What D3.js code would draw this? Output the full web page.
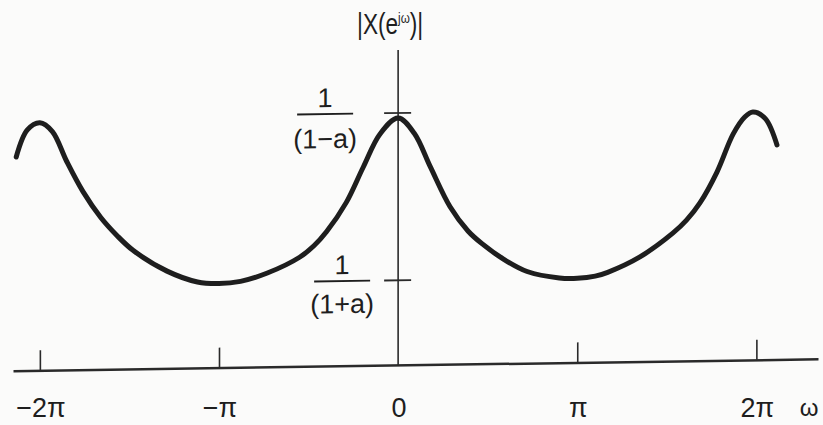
<!DOCTYPE html>
<html>
<head>
<meta charset="utf-8">
<script src="https://cdn.jsdelivr.net/npm/d3@7"></script>
<style>
  html, body { margin: 0; padding: 0; background: #fbfbfa; }
  svg { display: block; }
</style>
</head>
<body>
<svg id="chart" width="823" height="425"></svg>
<script>
// ---- Data (ω in units of π, |X(e^jω)| with a = 0.5) ----
const omegaOverPi = [-2.132, -2.070, -2.000, -1.930, -1.850, -1.760, -1.660, -1.570, -1.480, -1.290,
                     -1.120, -1.000, -0.880, -0.730, -0.550, -0.470, -0.400, -0.290, -0.195, -0.100,
                      0.000,  0.090,  0.180,  0.290,  0.390,  0.470,  0.590,  0.720,  0.900,  1.000,
                      1.100,  1.170,  1.350,  1.535,  1.610,  1.685,  1.780,  1.870,  1.935,  1.980,
                      2.050,  2.115];
const magnitude   = [ 1.702,  1.916,  1.972,  1.900,  1.660,  1.420,  1.210,  1.065,  0.945,  0.775,
                      0.685,  0.670,  0.685,  0.748,  0.870,  0.960,  1.070,  1.300,  1.580,  1.845,
                      1.968,  1.845,  1.575,  1.255,  1.060,  0.955,  0.830,  0.730,  0.675,  0.670,
                      0.685,  0.714,  0.833,  1.020,  1.120,  1.256,  1.500,  1.800,  1.935,  1.975,
                      1.920,  1.709];
const xTickValues = [-2, -1, 0, 1, 2];
const xTickLabels = ["−2π", "−π", "0", "π", "2π"];
const xAxisTitle = "ω";
const yTickValues = [2, 0.667];          // 1/(1−a), 1/(1+a) with a = 0.5
const yTickNumerators = ["1", "1"];
const yTickDenominators = ["(1−a)", "(1+a)"];
const yTitleMain = ["|X(e", ")|"];
const yTitleSup = "jω";

// ---- Layout ----
const svg = d3.select("#chart");
const sans = "'Liberation Sans', Arial, Helvetica, sans-serif";
const ink = "#1e1e1e";

const x = d3.scaleLinear().domain([-2.15, 2.344]).range([13, 818]);
const y = d3.scaleLinear().domain([0, 2]).range([365, 114]);

// the scanned figure is slightly tilted
const g = svg.append("g")
  .attr("transform", "translate(398,240) skewY(-0.84) translate(-398,-240)");

// x axis (ticks pointing up, labels drawn separately below)
const xAxis = g.append("g")
  .attr("transform", `translate(0,${y(0)})`)
  .call(d3.axisBottom(x)
    .tickValues(xTickValues.filter(v => v !== 0))
    .tickSizeInner(-20)
    .tickSizeOuter(0)
    .tickFormat(""));
xAxis.select(".domain").attr("stroke", "#2a2a2a").attr("stroke-width", 2.5);
xAxis.selectAll(".tick line").attr("stroke", "#2a2a2a").attr("stroke-width", 1.6);

// y axis line
g.append("line")
  .attr("x1", x(0)).attr("x2", x(0))
  .attr("y1", 50).attr("y2", y(0))
  .attr("stroke", "#2a2a2a").attr("stroke-width", 1.6);

// y ticks (straddling the axis)
g.selectAll(".ytick").data(yTickValues).join("line")
  .attr("class", "ytick")
  .attr("x1", x(0) - 14).attr("x2", x(0) + 13)
  .attr("y1", d => y(d) - 1).attr("y2", d => y(d) - 1)
  .attr("stroke", "#2a2a2a").attr("stroke-width", 1.8);

// curve
const pts = omegaOverPi.map((w, i) => [w, magnitude[i]]);
g.append("path")
  .datum(pts)
  .attr("fill", "none")
  .attr("stroke", ink)
  .attr("stroke-width", 5)
  .attr("stroke-linecap", "round")
  .attr("stroke-linejoin", "round")
  .attr("d", d3.line().x(d => x(d[0])).y(d => y(d[1])).curve(d3.curveCatmullRom.alpha(0.5)));

// fraction labels on the y axis
const fracCenterOffset = [-73, -56];
const fracDenY = [33, 31];
yTickValues.forEach((v, i) => {
  const cx = x(0) + fracCenterOffset[i];
  const yy = y(v);
  g.append("text")
    .attr("x", cx).attr("y", yy - 8)
    .attr("text-anchor", "middle")
    .attr("font-family", sans).attr("font-size", 27).attr("fill", ink)
    .text(yTickNumerators[i]);
  g.append("line")
    .attr("x1", cx - 28).attr("x2", cx + 28)
    .attr("y1", yy - 1).attr("y2", yy - 1)
    .attr("stroke", ink).attr("stroke-width", 1.8);
  g.append("text")
    .attr("x", cx).attr("y", yy + fracDenY[i])
    .attr("text-anchor", "middle")
    .attr("font-family", sans).attr("font-size", 27).attr("fill", ink)
    .text(yTickDenominators[i]);
});

// y title |X(e^{jω})| (condensed like the scan)
const title = svg.append("text")
  .attr("transform", `translate(${x(0) - 8},34) scale(0.78,1)`)
  .attr("x", 0).attr("y", 0)
  .attr("text-anchor", "middle")
  .attr("font-family", sans).attr("font-size", 29).attr("fill", ink);
title.append("tspan").text(yTitleMain[0]);
title.append("tspan").attr("dy", -11).attr("font-size", 15).text(yTitleSup);
title.append("tspan").attr("dy", 11).text(yTitleMain[1]);

// x tick labels (horizontal baseline in the scan)
svg.selectAll(".xlab").data(xTickValues).join("text")
  .attr("class", "xlab")
  .attr("x", d => x(d) + 1)
  .attr("y", 417)
  .attr("text-anchor", "middle")
  .attr("font-family", sans).attr("font-size", 27).attr("fill", ink)
  .text((d, i) => xTickLabels[i]);

svg.append("text")
  .attr("x", 809).attr("y", 416)
  .attr("text-anchor", "middle")
  .attr("font-family", sans).attr("font-size", 24).attr("fill", ink)
  .text(xAxisTitle);
</script>
</body>
</html>
